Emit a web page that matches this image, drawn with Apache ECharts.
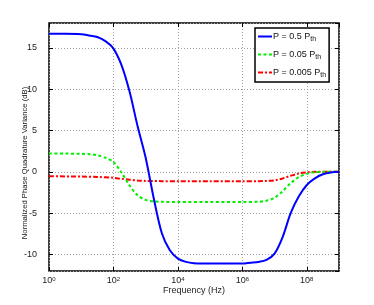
<!DOCTYPE html>
<html>
<head>
<meta charset="utf-8">
<script src="https://cdn.jsdelivr.net/npm/echarts@6/dist/echarts.min.js"></script>
<style>
html,body{margin:0;padding:0;background:#fff;}
#c{width:374px;height:305px;}
</style>
</head>
<body>
<div id="c"></div>
<script>
// Frequencies are stored as log10(Hz) exponents; values in dB
var blueLogF = [0,0.5,1,1.25,1.5,1.75,2,2.25,2.5,2.75,3,3.25,3.5,3.75,4,4.25,4.5,5,5.5,6,6.25,6.5,6.75,7,7.25,7.5,7.75,8,8.25,8.5,8.75,9];
var blueDb   = [16.7,16.7,16.65,16.5,16.3,15.8,14.9,12.9,9.7,5.5,1.7,-3.2,-7.4,-9.5,-10.5,-10.9,-11.05,-11.1,-11.1,-11.1,-11.0,-10.9,-10.65,-9.9,-7.9,-5.0,-3.0,-1.6,-0.8,-0.3,-0.08,0];
var greenLogF = [0,0.5,1,1.25,1.5,1.75,2,2.25,2.5,2.75,3,3.25,3.5,4,5,6,6.5,6.75,7,7.25,7.5,7.75,8,8.25,8.5,9];
var greenDb   = [2.2,2.2,2.18,2.13,2.0,1.7,1.2,-0.1,-1.65,-2.85,-3.4,-3.58,-3.63,-3.65,-3.65,-3.65,-3.62,-3.5,-3.15,-2.35,-1.37,-0.65,-0.25,-0.06,0,0];
var redLogF = [0,1,1.5,2,2.25,2.5,2.75,3,3.5,4,5,6,6.5,6.75,7,7.25,7.5,7.75,8,8.25,9];
var redDb   = [-0.55,-0.57,-0.63,-0.72,-0.85,-0.96,-1.05,-1.1,-1.13,-1.15,-1.15,-1.15,-1.13,-1.1,-1.03,-0.8,-0.48,-0.2,-0.06,0,0];
var seriesNames = ['P = 0.5 P{sub|th}', 'P = 0.05 P{sub|th}', 'P = 0.005 P{sub|th}'];
var yTicks = [-10,-5,0,5,10,15];

function pts(lf, v){ return lf.map(function(e,i){ return [Math.pow(10,e), v[i]]; }); }

var font = '"Liberation Sans", Arial, Helvetica, sans-serif';
var chart = echarts.init(document.getElementById('c'), null, {renderer:'canvas'});
var gridLine = {show:true, lineStyle:{color:'#a0a0a0', type:[1,2], width:1}};
var tick = {show:true, inside:true, length:4, lineStyle:{color:'#000', width:1}};
chart.setOption({
  animation:false,
  backgroundColor:'#fff',
  grid:{left:49, right:35, top:23, bottom:34, show:true, borderColor:'#000', borderWidth:1.5, backgroundColor:'#fff'},
  legend:{
    left:255, top:28, orient:'vertical',
    data:['b','g','r'],
    formatter:function(n){ return {b:seriesNames[0], g:seriesNames[1], r:seriesNames[2]}[n]; },
    itemWidth:14, itemHeight:10, itemGap:7,
    padding:[4,3,3,2],
    itemStyle:{opacity:0},
    borderColor:'#000', borderWidth:1.5, backgroundColor:'#fff',
    textStyle:{fontFamily:font, fontSize:9, color:'#111', padding:[0,0,0,-4],
      rich:{sub:{fontSize:7, fontFamily:font, color:'#111', verticalAlign:'bottom', padding:[6,0,0,0]}}}
  },
  xAxis:[{
    type:'log', logBase:10, min:1, max:1e9, interval:2,
    name:'Frequency (Hz)', nameLocation:'middle', nameGap:15, nameMoveOverlap:false,
    nameTextStyle:{fontFamily:font, fontSize:9, color:'#222'},
    axisLine:{show:false, onZero:false},
    axisTick:tick,
    axisLabel:{showMaxLabel:false, margin:5, fontFamily:font, fontSize:9, color:'#222', lineHeight:9,
      formatter:function(v){ var e=Math.round(Math.log10(v)); return '10{sup|'+e+'}'; },
      rich:{sup:{fontSize:6, fontFamily:font, color:'#222', verticalAlign:'top', lineHeight:6}}},
    splitLine:gridLine, minorTick:{show:false}
  },{
    type:'log', logBase:10, min:1, max:1e9, interval:2, position:'top',
    axisLine:{show:false, onZero:false}, axisLabel:{show:false},
    axisTick:tick,
    splitLine:{show:false}
  }],
  yAxis:[{
    type:'value', min:-12, max:18, minInterval:5, maxInterval:5,
    name:'Normalized Phase Quadrature Variance (dB)', nameLocation:'middle', nameGap:20, nameMoveOverlap:false,
    nameTextStyle:{fontFamily:font, fontSize:7.7, color:'#222', padding:[0,32,0,0]},
    axisLine:{show:false, onZero:false},
    axisTick:tick,
    axisLabel:{margin:12, fontFamily:font, fontSize:9, color:'#222', showMinLabel:false, showMaxLabel:false,
      formatter:function(v){ return yTicks.indexOf(v)>=0 ? String(v) : ''; }},
    splitLine:gridLine
  },{
    type:'value', min:-12, max:18, minInterval:5, maxInterval:5, position:'right',
    axisLine:{show:false, onZero:false}, axisLabel:{show:false},
    axisTick:tick,
    splitLine:{show:false}
  }],
  series:[
    {name:'r', type:'line', data:pts(redLogF, redDb), symbol:'none', smooth:0.3, z:3,
      lineStyle:{color:'#ff0000', width:2, type:[5,2,2,2]}, itemStyle:{color:'#ff0000'}},
    {name:'g', type:'line', data:pts(greenLogF, greenDb), symbol:'none', smooth:0.3, z:4,
      lineStyle:{color:'#00ee00', width:2, type:[3,2.5]}, itemStyle:{color:'#00ee00'}},
    {name:'b', type:'line', data:pts(blueLogF, blueDb), symbol:'none', smooth:0.3, z:5,
      lineStyle:{color:'#0000ff', width:2}, itemStyle:{color:'#0000ff'}}
  ]
});
</script>
</body>
</html>
